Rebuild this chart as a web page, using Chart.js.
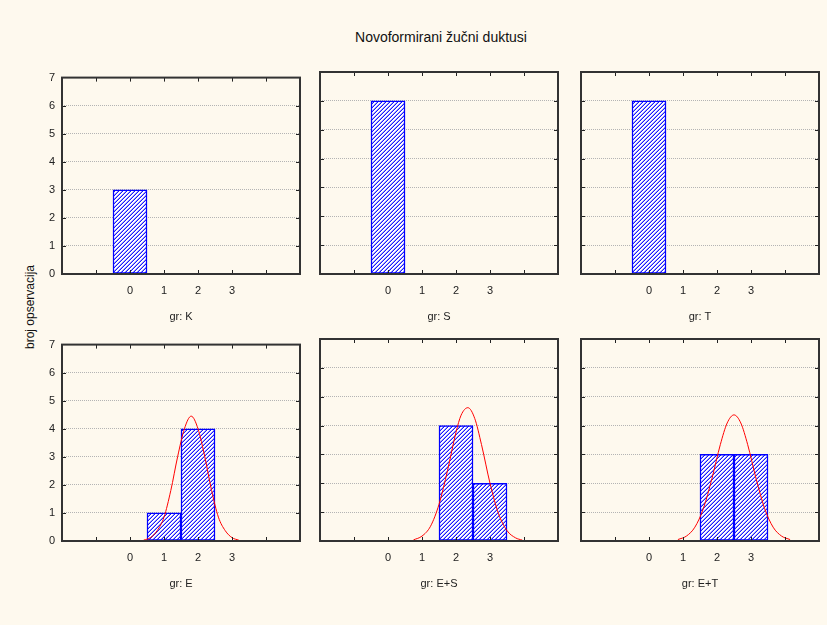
<!DOCTYPE html>
<html>
<head>
<meta charset="utf-8">
<script src="https://cdn.jsdelivr.net/npm/chart.js@4.4.1/dist/chart.umd.min.js"></script>
<style>
  body { margin: 0; background: #fef9ee; font-family: "Liberation Sans", Arial, sans-serif; }
  #page { position: relative; width: 827px; height: 625px; overflow: hidden; }
  #page canvas { position: absolute; }
  #title { position: absolute; left: 0; width: 882px; top: 29px; text-align: center; font-size: 14px; color: #111; }
  #ytitle { position: absolute; left: 30px; top: 307px; transform: translate(-50%, -50%) rotate(-90deg);
            font-size: 12px; color: #111; white-space: nowrap; }
</style>
</head>
<body>
<div id="page">
  <div id="title">Novoformirani žučni duktusi</div>
  <div id="ytitle">broj opservacija</div>
</div>
<script>
// histogram classes and tick labels
const classes = [0, 1, 2, 3];
const xTickLabels = [0, 1, 2, 3];
const yTicks = [0, 1, 2, 3, 4, 5, 6, 7];

const groups = ["K", "S", "T", "E", "E+S", "E+T"];
const countsK = [3, 0, 0, 0];
const countsS = [6, 0, 0, 0];
const countsT = [6, 0, 0, 0];
const countsE = [0, 1, 4, 0];
const countsES = [0, 0, 4, 2];
const countsET = [0, 0, 3, 3];

// fitted normal curves
const curveEx = [0.4, 0.6, 0.8, 1.0, 1.2, 1.4, 1.6, 1.8, 2.0, 2.2, 2.4, 2.6, 2.8, 3.0, 3.2];
const curveEy = [0.03, 0.12, 0.37, 0.85, 1.8, 3.0, 4.0, 4.45, 4.0, 3.0, 1.8, 0.85, 0.37, 0.12, 0.03];
const curveESx = [0.75, 1.0, 1.25, 1.5, 1.75, 2.0, 2.15, 2.35, 2.55, 2.75, 3.0, 3.25, 3.5, 3.75, 3.95];
const curveESy = [0.04, 0.17, 0.51, 1.27, 2.44, 3.77, 4.36, 4.62, 4.25, 3.34, 2.0, 0.95, 0.36, 0.11, 0.03];
const curveETx = [0.85, 1.1, 1.35, 1.6, 1.85, 2.1, 2.3, 2.5, 2.7, 2.9, 3.15, 3.4, 3.65, 3.9, 4.15];
const curveETy = [0.05, 0.17, 0.48, 1.13, 2.16, 3.35, 4.09, 4.37, 4.09, 3.35, 2.16, 1.13, 0.48, 0.17, 0.05];

const panelCounts = [countsK, countsS, countsT, countsE, countsES, countsET];
const panelCurves = [null, null, null, [curveEx, curveEy], [curveESx, curveESy], [curveETx, curveETy]];

// plot-area corners (layout)
const plotPos = [[62, 72], [320, 72], [581, 72], [62, 339], [320, 339], [581, 339]];
const plotW = 240, plotH = 202;
const axisW = 40, axisH = 56, padTop = 8, padRight = 8;

function hatch(target) {
  const c = document.createElement("canvas");
  c.width = 4; c.height = 4;
  const g = c.getContext("2d");
  g.fillStyle = "#ffffff";
  g.fillRect(0, 0, 4, 4);
  for (let x = 0; x < 4; x++) {
    for (let y = 0; y < 4; y++) {
      const d = (x + y) % 4;
      if (d === 3) { g.fillStyle = "#1a1aff"; g.fillRect(x, y, 1, 1); }
      if (d === 2) { g.fillStyle = "#9a9aff"; g.fillRect(x, y, 1, 1); }
    }
  }
  return target.getContext("2d").createPattern(c, "repeat");
}

const framePlugin = {
  id: "frame",
  afterDraw(chart) {
    const { ctx, chartArea: a, scales } = chart;
    ctx.save();
    ctx.strokeStyle = "#222";
    ctx.lineWidth = 1;
    for (let v = -1; v <= 4; v++) {
      const px = Math.round(scales.x.getPixelForValue(v)) + 0.5;
      ctx.beginPath();
      ctx.moveTo(px, a.top); ctx.lineTo(px, a.top + 4);
      ctx.moveTo(px, a.bottom); ctx.lineTo(px, a.bottom - 4);
      ctx.stroke();
    }
    for (let v = 1; v <= 6; v++) {
      const py = Math.round(scales.y.getPixelForValue(v)) + 0.5;
      ctx.beginPath();
      ctx.moveTo(a.left, py); ctx.lineTo(a.left + 4, py);
      ctx.moveTo(a.right, py); ctx.lineTo(a.right - 4, py);
      ctx.stroke();
    }
    ctx.lineWidth = 2;
    ctx.strokeStyle = "#333";
    ctx.strokeRect(a.left, a.top, a.right - a.left, a.bottom - a.top);
    ctx.restore();
  }
};

const page = document.getElementById("page");

for (let i = 0; i < groups.length; i++) {
  const canvas = document.createElement("canvas");
  canvas.width = axisW + plotW + padRight;
  canvas.height = padTop + plotH + axisH;
  canvas.style.left = (plotPos[i][0] - axisW) + "px";
  canvas.style.top = (plotPos[i][1] - padTop) + "px";
  page.appendChild(canvas);

  const bars = [];
  for (let k = 0; k < classes.length; k++) {
    if (panelCounts[i][k] > 0) bars.push({ x: classes[k], y: panelCounts[i][k] });
  }

  const datasets = [];
  if (panelCurves[i]) {
    const [cx, cy] = panelCurves[i];
    datasets.push({
      type: "line",
      data: cx.map((x, j) => ({ x: x, y: cy[j] })),
      borderColor: "#ff0000",
      borderWidth: 1,
      pointRadius: 0,
      cubicInterpolationMode: "monotone",
      order: 0
    });
  }
  datasets.push({
    type: "bar",
    data: bars,
    backgroundColor: hatch(canvas),
    borderColor: "#0000ff",
    borderWidth: 1.5,
    borderSkipped: false,
    barPercentage: 1,
    categoryPercentage: 1,
    grouped: false,
    order: 1
  });

  const firstCol = i % 3 === 0;

  new Chart(canvas, {
    type: "bar",
    data: { datasets: datasets },
    options: {
      responsive: false,
      animation: false,
      layout: { padding: { left: 0, right: padRight, top: padTop, bottom: 0 } },
      plugins: { legend: { display: false }, tooltip: { enabled: false } },
      scales: {
        x: {
          type: "linear",
          min: -2,
          max: 5,
          offset: false,
          grid: { display: false, drawTicks: false },
          border: { display: false },
          ticks: {
            stepSize: 1,
            autoSkip: false,
            maxRotation: 0,
            padding: 10,
            color: "#222",
            font: { family: "Liberation Sans, Arial, sans-serif", size: 11 },
            callback: (v) => (xTickLabels.includes(v) ? String(v) : "")
          },
          title: {
            display: true,
            text: "gr: " + groups[i],
            color: "#222",
            font: { family: "Liberation Sans, Arial, sans-serif", size: 11 },
            padding: { top: 0, bottom: 6 }
          },
          afterFit: (s) => { s.height = axisH; }
        },
        y: {
          min: yTicks[0],
          max: yTicks[yTicks.length - 1],
          grid: {
            drawTicks: false,
            color: (c) => (c.tick && (c.tick.value === 0 || c.tick.value === 7) ? "rgba(0,0,0,0)" : "#b4b4b4"),
            lineWidth: 1
          },
          border: { display: false, dash: [1, 1] },
          ticks: {
            display: firstCol,
            stepSize: 1,
            padding: 7,
            color: "#222",
            font: { family: "Liberation Sans, Arial, sans-serif", size: 11 }
          },
          afterFit: (s) => { s.width = axisW; }
        }
      }
    },
    plugins: [framePlugin]
  });
}
</script>
</body>
</html>
